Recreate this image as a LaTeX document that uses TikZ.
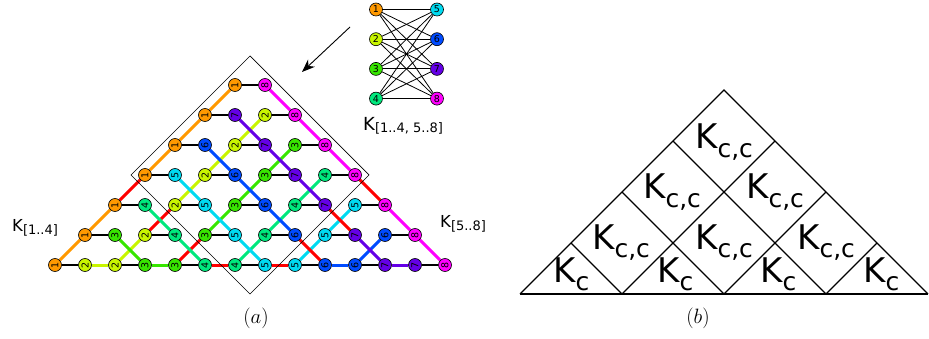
\documentclass[tikz,border=0pt]{standalone}
\usepackage{fontspec}
\setsansfont{DejaVu Sans}
\usetikzlibrary{arrows.meta}
\pgfdeclarelayer{bg}
\pgfsetlayers{bg,main}
\definecolor{c0}{RGB}{255,0,0}
\definecolor{c1}{RGB}{255,153,0}
\definecolor{c2}{RGB}{200,245,0}
\definecolor{c3}{RGB}{55,230,0}
\definecolor{c4}{RGB}{0,232,125}
\definecolor{c5}{RGB}{0,218,240}
\definecolor{c6}{RGB}{0,75,255}
\definecolor{c7}{RGB}{100,0,230}
\definecolor{c8}{RGB}{255,0,255}
\tikzset{
  vnode/.style={circle, draw=black, line width=0.6pt, minimum size=13pt, inner sep=0pt,
    font=\sffamily\fontsize{9.5}{9.5}\selectfont, text=black},
  pairedge/.style={draw=black, line width=2pt},
  varedge/.style={line width=3pt},
  kedge/.style={draw=black, line width=0.8pt},
  dframe/.style={draw=black, line width=0.7pt},
  bframe/.style={draw=black, line width=1.1pt},
  lab/.style={font=\sffamily\fontsize{16.5}{16.5}\selectfont, inner sep=0pt},
  blab/.style={font=\sffamily\fontsize{34}{34}\selectfont, inner sep=0pt, anchor=base west},
  captext/.style={font=\fontsize{20}{20}\selectfont, inner sep=0pt}
}
\newcommand{\subA}[1]{\raisebox{-2pt}{\fontsize{13}{13}\selectfont #1}}
\newcommand{\subB}[1]{\raisebox{-9pt}{\fontsize{25}{25}\selectfont #1}}
\begin{document}
\begin{tikzpicture}[x=1pt,y=-1pt]
\useasboundingbox (0,0) rectangle (929,339);
% ---------- (a) nodes ----------
\foreach \r in {0,...,6}{
  \pgfmathtruncatemacro\jmax{13-2*\r}
  \foreach \j in {0,...,\jmax}{
    \pgfmathtruncatemacro\pp{floor(\j/2)}
    \pgfmathtruncatemacro\vv{mod(\j,2)==0 ? \pp+1 : \pp+\r+2}
    \pgfmathtruncatemacro\ii{\r+\j}
    \node[vnode, fill=c\vv, rotate=90] (n\r-\ii) at ({55+30*\ii},{265-30*\r}) {\vv};
  }
}
\begin{pgfonlayer}{bg}
  % couplings inside each row
  \foreach \r in {0,...,6}{
    \pgfmathtruncatemacro\kmax{6-\r}
    \foreach \k in {0,...,\kmax}{
      \pgfmathtruncatemacro\na{\r+2*\k}
      \pgfmathtruncatemacro\nb{\na+1}
      \draw[pairedge] (n\r-\na) -- (n\r-\nb);
    }
  }
  % same variable, bottom row
  \foreach \vv in {2,...,7}{
    \pgfmathtruncatemacro\na{2*\vv-3}
    \pgfmathtruncatemacro\nb{2*\vv-2}
    \pgfmathtruncatemacro\mycol{(\vv==4 || \vv==5) ? 0 : \vv}
    \draw[varedge, draw=c\mycol] (n0-\na) -- (n0-\nb);
  }
  % right branches
  \foreach \vv in {1,...,6}{
    \pgfmathtruncatemacro\rmax{6-\vv}
    \foreach \r in {0,...,\rmax}{
      \pgfmathtruncatemacro\na{2*\vv-2+\r}
      \pgfmathtruncatemacro\nb{\na+1}
      \pgfmathtruncatemacro\nr{\r+1}
      \pgfmathtruncatemacro\mycol{(\vv+\r==3) ? 0 : \vv}
      \draw[varedge, draw=c\mycol] (n\r-\na) -- (n\nr-\nb);
    }
  }
  % left branches
  \foreach \vv in {3,...,8}{
    \pgfmathtruncatemacro\rmax{\vv-3}
    \foreach \r in {0,...,\rmax}{
      \pgfmathtruncatemacro\na{2*\vv-3-\r}
      \pgfmathtruncatemacro\nb{\na-1}
      \pgfmathtruncatemacro\nr{\r+1}
      \pgfmathtruncatemacro\mycol{(\vv-\r==6) ? 0 : \vv}
      \draw[varedge, draw=c\mycol] (n\r-\na) -- (n\nr-\nb);
    }
  }
\end{pgfonlayer}
% diamond frame
\coordinate (dT) at (250,56);
\coordinate (dR) at (369,175);
\coordinate (dB) at (250,294);
\coordinate (dL) at (131,175);
\draw[dframe] (dT) -- (dR) -- (dB) -- (dL) -- cycle;
% labels (a)
\node[lab, anchor=base west] (la) at (12,232) {K\subA{[1..4]}};
\node[lab, anchor=base west] (lb) at (440,228) {K\subA{[5..8]}};
\node[lab, anchor=base west, font=\sffamily\fontsize{18}{18}\selectfont] (lk) at (363,131) {K\subA{[1..4, 5..8]}};
% bipartite graph
\foreach \k in {1,...,4}{
  \node[vnode, fill=c\k] (L\k) at (376,{9.5+29.7*(\k-1)}) {\k};
  \pgfmathtruncatemacro\rr{\k+4}
  \node[vnode, fill=c\rr] (R\rr) at (437,{9.5+29.7*(\k-1)}) {\rr};
}
\begin{pgfonlayer}{bg}
  \foreach \a in {1,...,4}{
    \foreach \b in {5,...,8}{
      \draw[kedge] (L\a) -- (R\b);
    }
  }
\end{pgfonlayer}
% arrow
\coordinate (as) at (350,27);
\coordinate (ae) at (302,72);
\draw[line width=0.9pt, -{Stealth[length=13pt,width=10pt]}] (as) -- (ae);
\node[captext] (capa) at (256,318) {$(a)$};
% ---------- (b) ----------
\coordinate (bL) at (520,294);
\coordinate (bR) at (928,294);
\coordinate (bT) at (724,90);
\draw[bframe] (bL) -- (bT) -- (bR);
\draw[draw=black, line width=1.6pt] (bL) -- (bR);
\foreach \k in {1,2,3}{
  \coordinate (pl\k) at ({724-51*\k},{90+51*\k});
  \coordinate (ql\k) at ({928-102*\k},294);
  \coordinate (pr\k) at ({724+51*\k},{90+51*\k});
  \coordinate (qr\k) at ({520+102*\k},294);
  \draw[bframe] (pl\k) -- (ql\k);
  \draw[bframe] (pr\k) -- (qr\k);
}
\node[blab] (t1) at (695,149) {K\subB{c,c}};
\node[blab] (t2) at (643,199) {K\subB{c,c}};
\node[blab] (t3) at (746,199) {K\subB{c,c}};
\node[blab] (t4) at (592,249) {K\subB{c,c}};
\node[blab] (t5) at (695,249) {K\subB{c,c}};
\node[blab] (t6) at (797,249) {K\subB{c,c}};
\node[blab] (s1) at (553,282) {K\subB{c}};
\node[blab] (s2) at (657,282) {K\subB{c}};
\node[blab] (s3) at (760,282) {K\subB{c}};
\node[blab] (s4) at (863,282) {K\subB{c}};
\node[captext] (capb) at (698,318) {$(b)$};
\end{tikzpicture}
\end{document}
